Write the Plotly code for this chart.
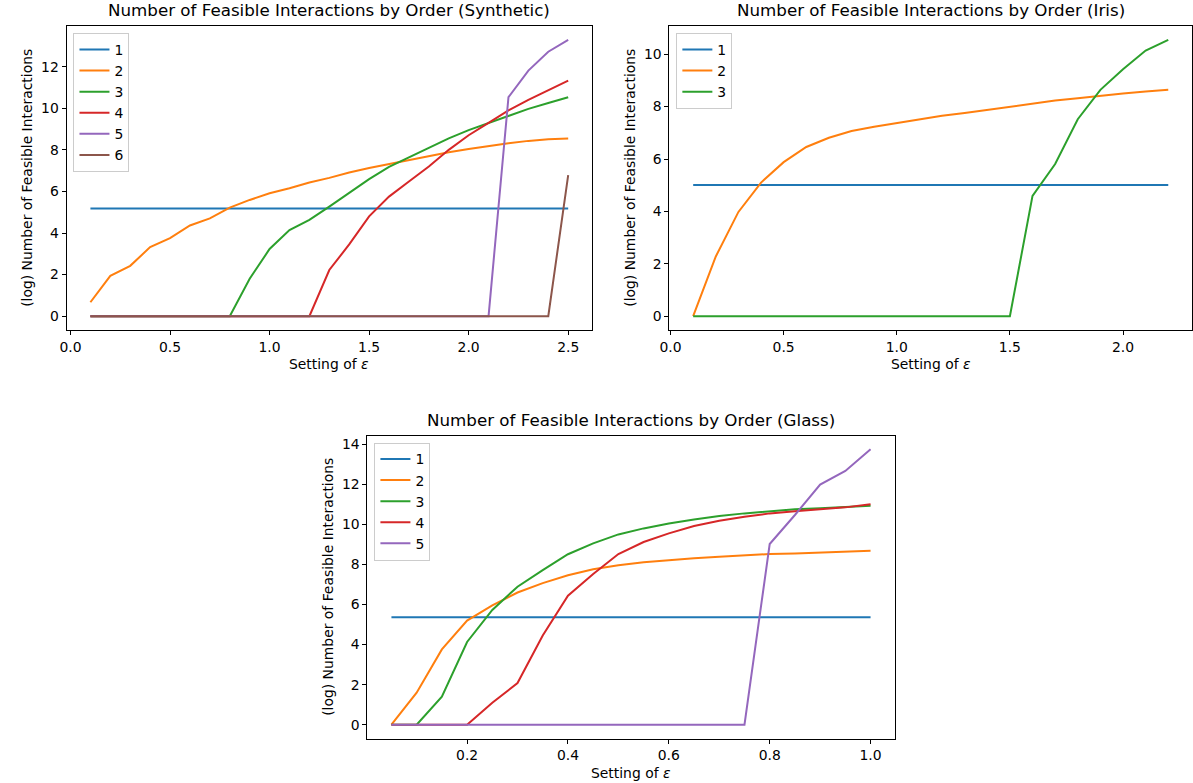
import plotly.graph_objects as go

W, H = 1193, 783

# ---------------- data ----------------
syn_eps = [0.1, 0.2, 0.3, 0.4, 0.5, 0.6, 0.7, 0.8, 0.9, 1.0, 1.1, 1.2, 1.3,
           1.4, 1.5, 1.6, 1.7, 1.8, 1.9, 2.0, 2.1, 2.2, 2.3, 2.4, 2.5]
syn_o1 = [5.18, 5.18, 5.18, 5.18, 5.18, 5.18, 5.18, 5.18, 5.18, 5.18, 5.18, 5.18, 5.18,
          5.18, 5.18, 5.18, 5.18, 5.18, 5.18, 5.18, 5.18, 5.18, 5.18, 5.18, 5.18]
syn_o2 = [0.67, 1.94, 2.42, 3.32, 3.75, 4.36, 4.70, 5.22, 5.59, 5.91, 6.15, 6.43, 6.65,
          6.91, 7.13, 7.32, 7.52, 7.71, 7.88, 8.04, 8.19, 8.32, 8.43, 8.51, 8.55]
syn_o3 = [0, 0, 0, 0, 0, 0, 0, 0, 1.80, 3.23, 4.14, 4.63, 5.27,
          5.91, 6.59, 7.18, 7.64, 8.10, 8.55, 8.95, 9.30, 9.65, 9.97, 10.25, 10.53]
syn_o4 = [0, 0, 0, 0, 0, 0, 0, 0, 0, 0, 0, 0, 2.22,
          3.45, 4.80, 5.75, 6.48, 7.20, 8.00, 8.70, 9.30, 9.90, 10.40, 10.88, 11.33]
syn_o5 = [0, 0, 0, 0, 0, 0, 0, 0, 0, 0, 0, 0, 0,
          0, 0, 0, 0, 0, 0, 0, 0, 10.53, 11.81, 12.72, 13.29]
syn_o6 = [0, 0, 0, 0, 0, 0, 0, 0, 0, 0, 0, 0, 0,
          0, 0, 0, 0, 0, 0, 0, 0, 0, 0, 0, 6.78]

iris_eps = [0.1, 0.2, 0.3, 0.4, 0.5, 0.6, 0.7, 0.8, 0.9, 1.0, 1.1,
            1.2, 1.3, 1.4, 1.5, 1.6, 1.7, 1.8, 1.9, 2.0, 2.1, 2.2]
iris_o1 = [5.01, 5.01, 5.01, 5.01, 5.01, 5.01, 5.01, 5.01, 5.01, 5.01, 5.01,
           5.01, 5.01, 5.01, 5.01, 5.01, 5.01, 5.01, 5.01, 5.01, 5.01, 5.01]
iris_o2 = [0, 2.28, 3.98, 5.10, 5.88, 6.46, 6.81, 7.07, 7.23, 7.37, 7.52,
           7.65, 7.76, 7.88, 8.00, 8.13, 8.23, 8.32, 8.42, 8.50, 8.58, 8.64]
iris_o3 = [0, 0, 0, 0, 0, 0, 0, 0, 0, 0, 0,
           0, 0, 0, 0, 4.59, 5.81, 7.52, 8.64, 9.43, 10.14, 10.55]

glass_eps = [0.05, 0.10, 0.15, 0.20, 0.25, 0.30, 0.35, 0.40, 0.45, 0.50,
             0.55, 0.60, 0.65, 0.70, 0.75, 0.80, 0.85, 0.90, 0.95, 1.00]
glass_o1 = [5.37, 5.37, 5.37, 5.37, 5.37, 5.37, 5.37, 5.37, 5.37, 5.37,
            5.37, 5.37, 5.37, 5.37, 5.37, 5.37, 5.37, 5.37, 5.37, 5.37]
glass_o2 = [0, 1.60, 3.76, 5.20, 5.96, 6.60, 7.07, 7.46, 7.76, 7.96,
            8.11, 8.22, 8.31, 8.39, 8.46, 8.52, 8.55, 8.60, 8.65, 8.69]
glass_o3 = [0, 0, 1.40, 4.13, 5.73, 6.89, 7.72, 8.51, 9.05, 9.50,
            9.80, 10.05, 10.25, 10.42, 10.55, 10.66, 10.75, 10.80, 10.85, 10.93]
glass_o4 = [0, 0, 0, 0, 1.10, 2.08, 4.45, 6.44, 7.52, 8.52,
            9.12, 9.55, 9.92, 10.18, 10.38, 10.55, 10.66, 10.75, 10.85, 11.01]
glass_o5 = [0, 0, 0, 0, 0, 0, 0, 0, 0, 0,
            0, 0, 0, 0, 0, 9.02, 10.47, 11.99, 12.67, 13.75]

order_labels = ["1", "2", "3", "4", "5", "6"]
colors = ["#1f77b4", "#ff7f0e", "#2ca02c", "#d62728", "#9467bd", "#8c564b"]

titles = ["Number of Feasible Interactions by Order (Synthetic)",
          "Number of Feasible Interactions by Order (Iris)",
          "Number of Feasible Interactions by Order (Glass)"]
x_label = "Setting of <i>ε</i>"
y_label = "(log) Number of Feasible Interactions"

FONT = "DejaVu Sans"
TICK_SIZE = 13.9
TITLE_SIZE = 16.7

# ------------- layout (pixel boxes in the screenshot) -------------
boxes = {
    "syn": (57, 587, 26, 330),
    "iris": (665, 1192, 26, 330),
    "glass": (360.5, 892, 435.5, 738.5),
}

def px_x(v):
    return v / W

def px_y(v):
    return 1 - v / H

fig = go.Figure()

panels = [
    ("syn", "x", "y", "legend", syn_eps,
     [syn_o1, syn_o2, syn_o3, syn_o4, syn_o5, syn_o6],
     [-0.02, 2.62], [-0.665, 13.955], 0.5, 2, titles[0]),
    ("iris", "x2", "y2", "legend2", iris_eps,
     [iris_o1, iris_o2, iris_o3],
     [-0.005, 2.305], [-0.5275, 11.0775], 0.5, 2, titles[1]),
    ("glass", "x3", "y3", "legend3", glass_eps,
     [glass_o1, glass_o2, glass_o3, glass_o4, glass_o5],
     [0.0025, 1.0475], [-0.6875, 14.4375], 0.2, 2, titles[2]),
]

axis_common = dict(
    showline=True, linecolor="black", linewidth=1, mirror=True,
    ticks="outside", ticklen=4, tickwidth=1, tickcolor="black",
    showgrid=False, zeroline=False,
    tickfont=dict(family=FONT, size=TICK_SIZE, color="black"),
)

for i, (key, xa, ya, lg, xs, series, xr, yr, xdt, ydt, title) in enumerate(panels):
    for j, ys in enumerate(series):
        fig.add_trace(go.Scatter(
            x=xs, y=ys, mode="lines", name=order_labels[j],
            line=dict(color=colors[j], width=2),
            xaxis=xa, yaxis=ya, legend=lg,
        ))
    x0, x1, y0, y1 = boxes[key]
    sfx = "" if i == 0 else str(i + 1)
    fig.update_layout(**{
        "xaxis" + sfx: dict(domain=[px_x(x0), px_x(x1)], range=xr, dtick=xdt,
                            tick0=0, tickformat=".1f", anchor="y" + sfx, **axis_common),
        "yaxis" + sfx: dict(domain=[px_y(y1), px_y(y0)], range=yr, dtick=ydt,
                            tick0=0, anchor="x" + sfx, **axis_common),
        lg: dict(x=px_x(x0 + 7), y=px_y(y0 + 7), xanchor="left", yanchor="top",
                 bgcolor="rgba(255,255,255,0.8)", bordercolor="#cccccc",
                 borderwidth=1, font=dict(family=FONT, size=TICK_SIZE, color="black"),
                 itemwidth=30, tracegroupgap=0),
    })
    cx = (x0 + x1) / 2
    cy = (y0 + y1) / 2
    # title
    fig.add_annotation(text=title, x=px_x(cx), y=px_y(y0 - 4), xref="paper", yref="paper",
                       xanchor="center", yanchor="bottom", showarrow=False,
                       font=dict(family=FONT, size=TITLE_SIZE, color="black"))
    # x label
    fig.add_annotation(text=x_label, x=px_x(cx), y=px_y(y1 + 24), xref="paper", yref="paper",
                       xanchor="center", yanchor="top", showarrow=False,
                       font=dict(family=FONT, size=TICK_SIZE, color="black"))
    # y label
    fig.add_annotation(text=y_label, x=px_x(x0 - 40), y=px_y(cy), xref="paper", yref="paper",
                       xanchor="center", yanchor="middle", showarrow=False, textangle=-90,
                       font=dict(family=FONT, size=TICK_SIZE, color="black"))

fig.update_layout(
    width=W, height=H,
    margin=dict(l=0, r=0, t=0, b=0),
    paper_bgcolor="white", plot_bgcolor="white",
    showlegend=True,
)

# remove the default page margin so the figure fills the window exactly
fig.write_html("out.html", config={"displayModeBar": False},
               post_script="document.body.style.margin='0';")
